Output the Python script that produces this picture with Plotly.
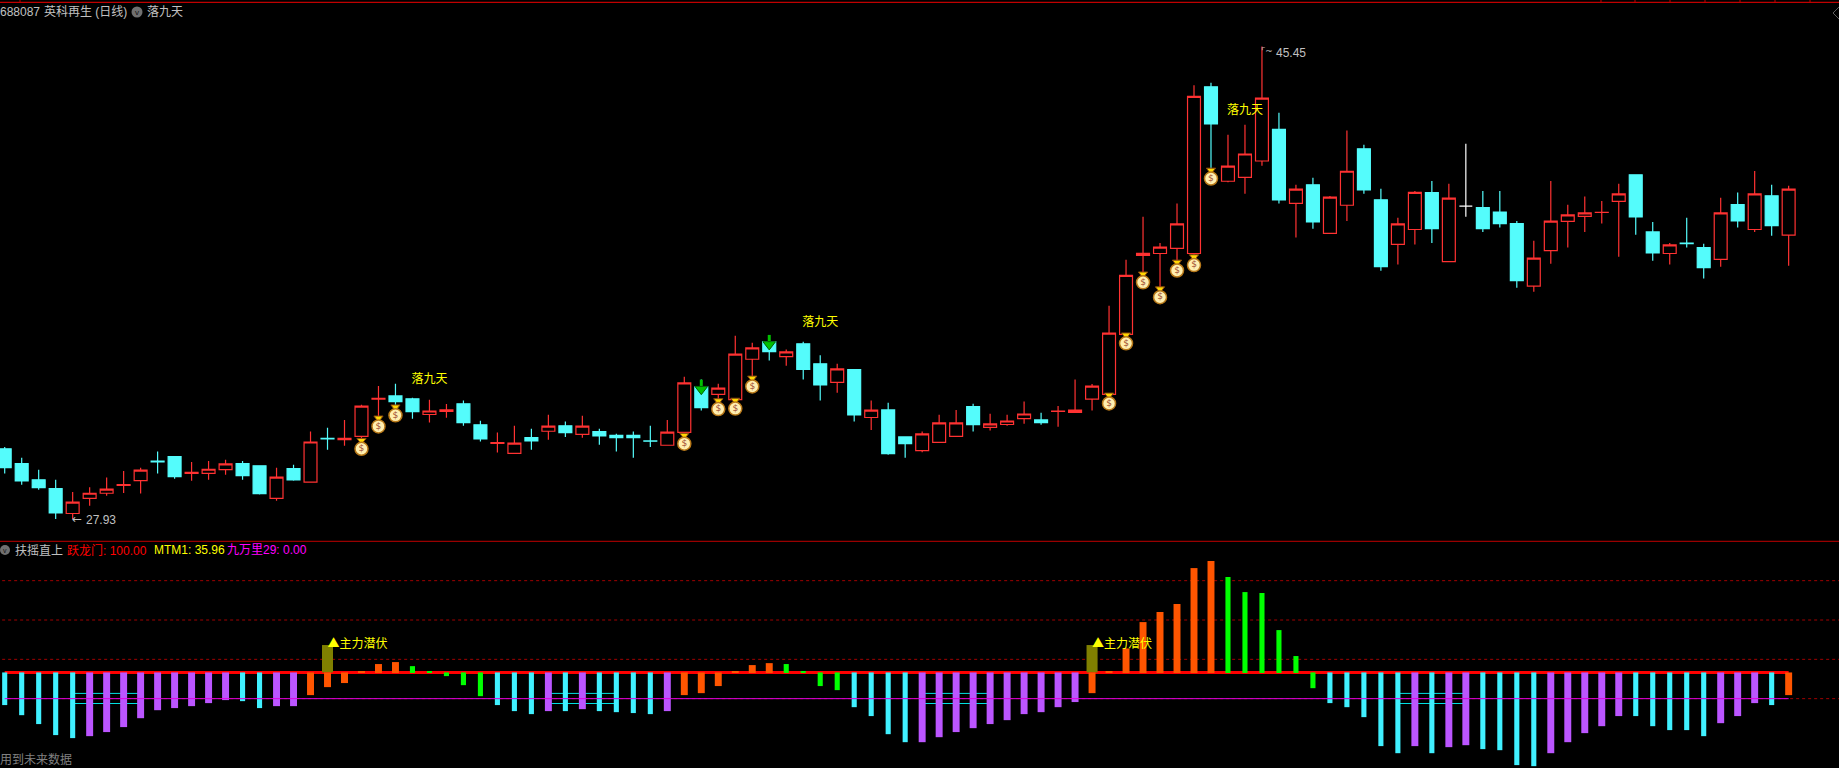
import numpy as np
import plotly.graph_objects as go

opens = [30.53,29.98,29.38,29.05,28.13,28.69,28.88,29.17,29.35,30.07,
         30.24,29.62,29.62,29.76,29.98,29.90,28.69,29.79,29.29,30.92,
         30.87,30.99,32.37,32.49,32.38,31.80,31.92,32.20,31.42,30.73,
         30.36,30.94,31.18,31.38,31.06,31.17,31.03,31.03,30.82,30.66,
         31.14,32.83,32.55,32.35,33.85,34.50,33.95,34.42,33.68,32.99,
         33.47,31.69,31.97,30.97,30.46,30.77,30.99,32.09,31.32,31.43,
         31.65,31.60,31.92,31.88,32.37,32.55,34.77,37.70,37.77,37.96,
         37.77,43.95,40.45,40.59,41.20,42.37,39.63,40.32,38.52,39.56,
         41.65,39.76,38.11,38.66,40.03,37.47,39.53,39.47,39.31,38.88,
         36.56,37.88,38.96,39.15,39.29,39.70,40.69,38.57,37.77,38.16,
         37.99,37.55,39.58,38.66,39.91,38.45]
highs = [30.60,30.20,29.75,29.38,28.93,29.10,29.46,29.71,29.83,30.43,
         30.24,30.04,30.08,30.12,30.08,29.90,29.83,29.94,31.17,31.31,
         31.60,32.16,32.86,32.94,32.42,32.35,32.19,32.32,31.57,31.13,
         31.38,31.27,31.79,31.54,31.75,31.27,31.09,31.17,31.38,31.60,
         33.20,33.10,32.94,34.72,34.46,34.75,34.21,34.50,34.00,33.68,
         33.47,32.32,32.24,30.97,31.17,31.79,31.97,32.20,31.83,31.79,
         32.28,31.87,32.12,33.10,32.93,35.83,37.54,39.13,38.16,39.62,
         44.01,44.10,42.17,42.54,45.45,42.99,40.32,40.58,39.90,42.33,
         41.80,40.17,39.10,40.09,40.46,40.36,41.84,40.09,40.09,38.98,
         38.24,40.46,39.58,39.88,39.72,40.36,40.69,38.94,38.16,39.10,
         38.13,39.84,40.03,40.83,40.32,40.28]
lows = [29.61,29.20,29.01,27.93,27.93,28.42,28.79,28.89,28.87,29.61,
        29.42,29.34,29.38,29.57,29.38,28.83,28.60,29.34,29.29,30.49,
        30.64,30.83,31.66,32.07,31.64,31.50,31.68,31.38,30.80,30.39,
        30.36,30.49,30.86,30.97,30.94,30.68,30.43,30.20,30.60,30.66,
        31.06,31.95,32.30,32.30,33.13,33.80,33.61,33.10,32.32,32.61,
        31.54,31.23,30.31,30.20,30.40,30.77,30.99,31.17,31.21,31.38,
        31.46,31.42,31.35,31.88,31.95,32.50,34.73,36.96,36.45,37.45,
        37.67,40.86,40.41,39.99,41.02,39.62,38.36,38.69,38.52,38.98,
        39.99,37.13,37.36,38.10,38.16,37.47,39.13,38.57,38.73,36.50,
        36.35,37.39,37.99,38.57,38.88,37.65,38.47,37.50,37.36,37.99,
        36.84,37.28,38.73,38.57,38.43,37.32]
closes = [29.83,29.34,29.09,28.15,28.55,28.88,29.03,29.20,29.74,30.04,
          29.50,29.66,29.77,29.97,29.53,28.87,29.48,29.38,30.78,30.90,
          30.92,32.11,32.40,32.28,31.91,31.93,31.97,31.50,30.90,30.76,
          30.74,30.82,31.37,31.13,31.37,31.01,30.94,30.94,30.81,31.15,
          32.97,32.05,32.78,34.04,34.27,34.13,34.12,33.47,32.90,33.49,
          31.79,31.96,30.35,30.72,31.08,31.49,31.49,31.42,31.45,31.56,
          31.82,31.50,31.93,31.96,32.85,34.82,36.96,37.78,38.01,38.87,
          43.60,42.58,41.01,41.46,43.53,39.76,40.16,38.94,39.86,40.82,
          40.13,37.28,38.87,40.04,38.69,39.82,39.53,38.69,38.88,36.76,
          37.60,38.97,39.20,39.28,39.30,39.98,39.13,37.79,38.09,38.14,
          37.25,39.28,38.98,39.98,38.80,40.16]
doji_white = [86]

bag_days = [21,22,23,40,42,43,44,65,66,67,68,69,70,71]
bag_prices = [30.58,31.41,31.82,30.77,32.05,32.07,32.89,32.26,34.49,36.75,36.20,37.19,37.39,40.60]
arrow_days = [41,45]
arrow_prices = [32.74,34.40]
signal_days = [25,48,73]
signal_prices = [33.08,35.20,43.06]
signal_text = "落九天"

osc_values = [-24.9,-32.6,-39.4,-47.8,-50.1,-48.6,-45.5,-41.7,-34.9,-28.8,
              -27.2,-25.7,-23.4,-21.1,-21.9,-27.2,-25.7,-25.7,-17.3,-11.2,
              -8.1,1.0,6.4,7.9,4.8,1.0,-2.8,-9.7,-18.1,-24.9,
              -29.5,-31.8,-29.5,-29.5,-28.0,-29.5,-30.3,-31.0,-31.8,-29.5,
              -17.3,-15.8,-10.4,1.0,5.6,7.1,6.4,1.0,-10.4,-13.5,
              -26.5,-33.3,-47.1,-53.2,-53.2,-49.4,-45.5,-42.5,-39.4,-36.4,
              -31.8,-30.3,-26.5,-22.6,-15.8,1.0,18.3,38.4,46.1,52.2,
              79.6,85.0,72.8,61.3,60.6,32.3,12.5,-12.0,-23.4,-26.5,
              -34.1,-56.2,-61.6,-56.2,-61.6,-57.0,-55.5,-58.5,-59.3,-70.7,
              -71.5,-61.6,-53.2,-46.3,-41.0,-33.3,-33.3,-41.0,-44.0,-44.0,
              -48.6,-38.7,-33.3,-23.4,-24.9,-17.3]
osc_kinds = list("ccccc" "ppppppppp" "cc" "pp" "oooooo" "ggggg" "ccc" "p" "c" "p" "c"
                 "ccc" "p" "oooooo" "gggg" "cccc" "pppppppppp" "oooooooo" "gggggg"
                 "ccccc" "p" "c" "pp" "cccc" "ppppp" "ccccc" "ppp" "c" "o")
main_days = [19,64]
main_value = [20.9,20.9]
main_text = "▲主力潜伏"
dotted_levels = [10,40,70,-20]
band_levels = [-16.0,-23.7]
band_spans = [(4,8),(32,36),(54,58),(82,86)]
magenta_level = -20
header_ticks = [20,1601,1635,1670,1705,1740,1775,1810]

W, H = 1839, 768
RED, CYAN = "#FF3232", "#54FCFC"
BAR_CYAN, PURPLE, ORANGE, GREEN, OLIVE = "#40F0FF", "#BB55FF", "#FF5500", "#00FF00", "#808000"
GRAY = "#C0C0C0"
FONT = "Liberation Sans, Noto Sans CJK SC, sans-serif"
CJK = "Noto Sans CJK SC, sans-serif"

days = list(range(len(opens)))
white = [d in doji_white for d in days]
sel = lambda arr, keep: [a for a, k in zip(arr, keep) if k]
plain = [not w for w in white]

fig = go.Figure()
fig.add_trace(go.Candlestick(
    x=sel(days, plain), open=sel(opens, plain), high=sel(highs, plain),
    low=sel(lows, plain), close=sel(closes, plain), xaxis="x", yaxis="y",
    whiskerwidth=0,
    increasing=dict(line=dict(color=RED, width=1.2), fillcolor="#000000"),
    decreasing=dict(line=dict(color=CYAN, width=1.2), fillcolor=CYAN)))
fig.add_trace(go.Candlestick(
    x=sel(days, white), open=sel(opens, white), high=sel(highs, white),
    low=sel(lows, white), close=sel(closes, white), xaxis="x", yaxis="y",
    whiskerwidth=0,
    increasing=dict(line=dict(color="#FFFFFF", width=1.2), fillcolor="#FFFFFF"),
    decreasing=dict(line=dict(color="#FFFFFF", width=1.2), fillcolor="#FFFFFF")))

# money bags
fig.add_trace(go.Scatter(
    x=bag_days, y=[p + 0.26 for p in bag_prices], mode="markers", xaxis="x", yaxis="y",
    marker=dict(symbol="triangle-down", size=8, color="#FFD800", line=dict(color="#8A4A10", width=1))))
fig.add_trace(go.Scatter(
    x=bag_days, y=[p - 0.05 for p in bag_prices], mode="markers+text", xaxis="x", yaxis="y",
    text=["$"] * len(bag_days), textposition="middle center",
    textfont=dict(family="DejaVu Sans", size=9, color="#A04A30"),
    marker=dict(symbol="circle", size=13, color="#FFEFB0", line=dict(color="#B87818", width=1.5))))

# green arrows
fig.add_trace(go.Scatter(
    x=arrow_days, y=[p + 0.17 for p in arrow_prices], mode="markers", xaxis="x", yaxis="y",
    marker=dict(symbol="line-ns", size=7, line=dict(color="#00C000", width=3))))
fig.add_trace(go.Scatter(
    x=arrow_days, y=arrow_prices, mode="markers", xaxis="x", yaxis="y",
    marker=dict(symbol="triangle-down", size=11, color="#00C000", line=dict(color="#006000", width=1))))

fig.add_trace(go.Scatter(
    x=signal_days, y=signal_prices, mode="text", xaxis="x", yaxis="y",
    text=[signal_text] * len(signal_days), textposition="middle center",
    textfont=dict(family=CJK, size=12, color="#FFFF00")))

# oscillator bars
fig.add_trace(go.Bar(x=main_days, y=main_value, width=0.65, marker=dict(color=OLIVE, line=dict(width=0)),
                     xaxis="x2", yaxis="y2"))
for kind, colour, width in [("c", BAR_CYAN, 0.30), ("p", PURPLE, 0.41), ("o", ORANGE, 0.41), ("g", GREEN, 0.30)]:
    keep = [k == kind for k in osc_kinds]
    vals = sel(osc_values, keep)
    fig.add_trace(go.Bar(
        x=sel(days, keep), y=[v + 0.4 if v > 0 else v for v in vals],
        base=[-0.4 if v > 0 else 0 for v in vals], width=width,
        marker=dict(color=colour, line=dict(width=0)), xaxis="x2", yaxis="y2"))

fig.add_trace(go.Scatter(
    x=[days[0], days[-1]], y=[magenta_level, magenta_level], mode="lines", xaxis="x2", yaxis="y2",
    line=dict(color="#E000E0", width=1)))
fig.add_trace(go.Scatter(
    x=main_days, y=main_value, mode="text", xaxis="x2", yaxis="y2",
    text=[main_text] * len(main_days), textposition="middle right",
    textfont=dict(family=CJK, size=12, color="#FFFF00")))


def px_line(x0, y0, x1, y1, colour, width=1):
    return dict(type="line", xref="paper", yref="paper", x0=x0 / W, x1=x1 / W,
                y0=1 - y0 / H, y1=1 - y1 / H, line=dict(color=colour, width=width), layer="below")


shapes = [px_line(0, 2.3, W, 2.3, "#C00000", 1.3), px_line(0, 541.3, W, 541.3, "#C00000", 1)]
shapes += [px_line(t, 0, t, 2.3, "#C00000", 1) for t in header_ticks]
shapes += [px_line(1839, 7, 1833, 13, "#606060"), px_line(1833, 13, 1839, 19, "#606060")]
for lvl in dotted_levels:
    shapes.append(dict(type="line", xref="x2", yref="y2", x0=-0.15, x1=108, y0=lvl, y1=lvl,
                       line=dict(color="#A00000", width=1, dash="dot"), layer="below"))
for a, b in band_spans:
    for lvl in band_levels:
        shapes.append(dict(type="line", xref="x2", yref="y2", x0=a, x1=b, y0=lvl, y1=lvl,
                           line=dict(color="#00E0E0", width=1), layer="below"))
shapes.append(dict(type="line", xref="x2", yref="y2", x0=days[0], x1=days[-1], y0=0, y1=0,
                   line=dict(color="#FF0000", width=3), layer="below"))
for cx, cy, r in [(137, 12, 5.5), (5, 550, 5)]:
    shapes.append(dict(type="circle", xref="paper", yref="paper", x0=(cx - r) / W, x1=(cx + r) / W,
                       y0=1 - (cy + r) / H, y1=1 - (cy - r) / H,
                       fillcolor="#707070", line=dict(width=0), layer="above"))


def label(x, y, text, colour, size=12, family=FONT, anchor="left"):
    return dict(xref="paper", yref="paper", x=x / W, y=1 - y / H, text=text, showarrow=False,
                xanchor=anchor, yanchor="middle", font=dict(family=family, size=size, color=colour),
                borderpad=0, borderwidth=0, align="left")


annotations = [
    label(0, 12, "688087", GRAY),
    label(44, 12, "英科再生 (日线)", GRAY),
    label(137, 12, "v", "#101010", 8, anchor="center"),
    label(147, 12, "落九天", GRAY),
    label(5, 550, "v", "#101010", 7, anchor="center"),
    label(15, 550, "扶摇直上", GRAY),
    label(67, 550, "跃龙门: 100.00", "#FF0000"),
    label(154, 550, "MTM1: 35.96", "#FFFF00"),
    label(227, 550, "九万里29: 0.00", "#FF00FF"),
    label(0, 759, "用到未来数据", "#808080"),
    label(72, 519, "←", GRAY, 12, "DejaVu Sans"),
    label(85.5, 520, "27.93", GRAY),
    label(1261, 51, "⌜~", GRAY, 9, "DejaVu Sans"),
    label(1275.5, 52.5, "45.45", GRAY),
]

px_x = lambda p: (p - 4.7) / 16.99
fig.update_layout(
    width=W, height=H, margin=dict(l=0, r=0, t=0, b=0), autosize=False,
    paper_bgcolor="#000000", plot_bgcolor="#000000", showlegend=False, hovermode=False,
    barmode="overlay", boxgap=0.24, boxgroupgap=0, boxmode="overlay",
    xaxis=dict(domain=[0, 1], range=[px_x(0), px_x(W)], visible=False, rangeslider=dict(visible=False), anchor="y"),
    yaxis=dict(domain=[1 - 541 / H, 1], range=[27.11, 47.17], visible=False, anchor="x"),
    xaxis2=dict(domain=[0, 1], range=[px_x(0), px_x(W)], visible=False, anchor="y2"),
    yaxis2=dict(domain=[0, (H - 542) / H], range=[-72.9, 99.5], visible=False, anchor="x2"),
    shapes=shapes, annotations=annotations,
)
fig.write_html("out.html", config=dict(displayModeBar=False),
               post_script="document.body.style.margin='0';document.body.style.background='#000';document.body.style.overflow='hidden';")
